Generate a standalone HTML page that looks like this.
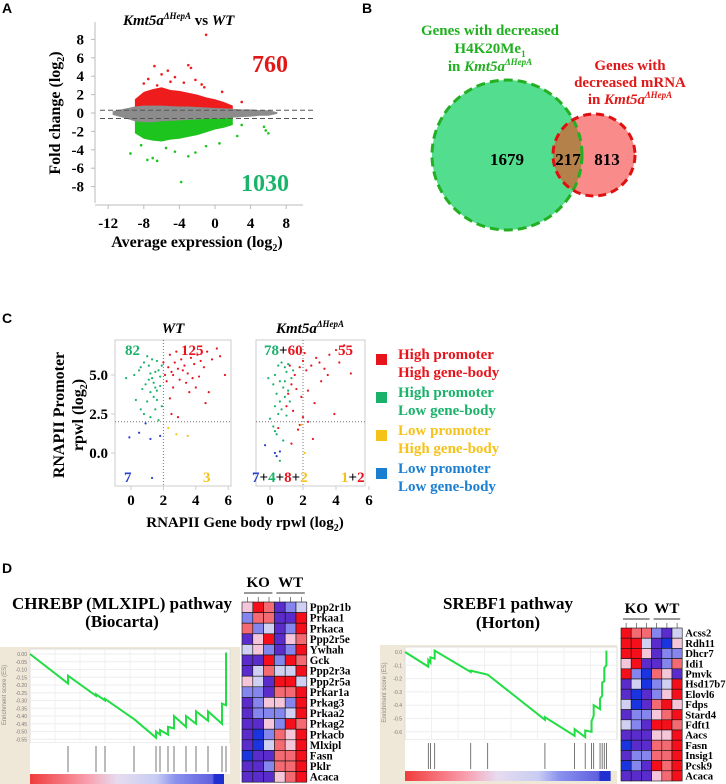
<!DOCTYPE html>
<html><head><meta charset="utf-8"><style>
html,body{margin:0;padding:0;background:#fff;width:726px;height:784px;overflow:hidden}
svg{display:block}
.s{font-family:"Liberation Serif",serif;font-weight:bold}
.p{font-family:"Liberation Sans",sans-serif;font-weight:bold;font-size:14px}
</style></head><body>
<svg id="fig" width="726" height="784" viewBox="0 0 726 784" xmlns="http://www.w3.org/2000/svg"></svg>
<script>
// ---------- Panel A data (MA plot) ----------
const maX      = [-11.5,-10,-9,-8,-7,-6,-5,-4,-3,-2,-1,0,1,2,3,4,5,6,7];
const maGrayHi = [0.2,0.5,0.7,0.8,0.8,0.8,0.75,0.7,0.7,0.65,0.6,0.55,0.5,0.45,0.4,0.4,0.3,0.3,0.1];
const maGrayLo = [-0.2,-0.6,-0.9,-1,-1,-0.9,-0.85,-0.8,-0.75,-0.7,-0.65,-0.6,-0.55,-0.5,-0.45,-0.4,-0.3,-0.3,-0.1];
const maBandX  = [-9,-8,-7,-6,-5,-4,-3,-2,-1,0,1,2];
const maRedHi  = [1.5,2.3,2.6,2.8,2.5,2.4,2.2,2.0,1.7,1.5,1.2,0.8];
const maGreenLo= [-2.2,-2.8,-3.0,-3.1,-2.9,-2.8,-2.6,-2.4,-2.1,-1.8,-1.6,-1.3];
const maRedOut = [[-1,8.5],[-6.8,5.1],[-3,5.2],[-2.7,4.9],[-5.3,4.6],[-6,4.2],[-7.5,3.7],[-4.5,3.9],[-2.2,3.6],[-8,3.2],[-3.5,3.3],[-1.2,2.8],[0.8,2.3],[3,1.2],[-5,3.4],[-6.5,3.0],[-1.5,3.1]];
const maGreenOut = [[-3.8,-7.5],[-9.5,-4.4],[-7.6,-5.1],[-6.5,-5.2],[-7,-4.9],[-4.5,-4.2],[-3,-4.7],[-2.2,-4.3],[-5.5,-3.8],[-1,-3.6],[0.5,-3.3],[2.5,-2.5],[5.5,-1.5],[6,-2.2],[5.7,-1.9],[3,-1.3],[-8.3,-3.5]];
const maXTicks = [-12,-8,-4,0,4,8];
const maYTicks = [8,6,4,2,0,-2,-4,-6,-8];
const maCounts = ["760","1030"];
// ---------- Panel B data (Venn) ----------
const vennCounts = ["1679","217","813"];
// ---------- Panel C data ----------
const wtGreen = [[-0.3,4.8],[0.2,5.0],[0.5,5.3],[0.6,5.5],[0.8,5.8],[1,6.2],[1.1,5.6],[1.2,5.1],[1.3,4.8],[1.4,4.5],[1.5,4.2],[1.6,5.9],[1.7,5.3],[1.8,4.9],[1.9,5.6],[1.2,3.9],[1.4,3.6],[1.6,4.0],[0.9,4.4],[1.0,3.3],[1.5,2.8],[0.6,2.8],[0.3,3.4],[1.2,2.3],[1.7,2.1],[0.8,2.5],[1.9,3.0],[1.1,4.7],[1.5,5.2],[1.3,6.0],[0.7,4.1],[1.8,4.3],[1.6,3.4]];
const wtRed = [[2.1,5.0],[2.3,5.5],[2.5,5.2],[2.7,5.8],[2.9,5.4],[3.1,6.0],[3.3,5.6],[3.5,5.1],[3.7,6.1],[3.9,5.7],[4.1,6.3],[4.3,5.9],[4.5,5.5],[4.7,6.5],[5.0,6.0],[5.3,6.7],[5.5,6.2],[5.8,5.0],[2.4,6.3],[2.8,6.5],[3.0,4.7],[3.4,4.5],[3.8,4.8],[4.2,4.9],[2.2,4.6],[2.6,4.2],[2.4,3.5],[4.0,4.2],[4.8,3.9],[4.6,3.2],[2.9,2.3],[2.5,2.5],[3.6,3.9],[2.0,5.8],[2.6,5.0],[3.2,5.3]];
const wtBlue = [[-0.1,1.0],[0.5,1.3],[1.2,0.9],[0.9,1.9],[1.8,1.1],[1.3,-1.6]];
const wtYellow = [[2.8,1.2],[3.5,1.1],[2.3,1.6]];
const koGreen = [[-0.1,4.8],[0.3,5.0],[0.5,5.6],[0.7,5.8],[0.9,5.5],[1.0,5.2],[0.6,4.6],[0.8,4.2],[1.1,4.0],[0.4,3.8],[0.9,3.6],[0.3,3.0],[0.7,2.8],[1.2,3.3],[0.5,2.5],[0.0,2.2],[0.2,1.7],[0.4,1.2],[0.8,0.8],[1.3,4.8],[1.1,5.7],[0.6,3.3],[1.0,2.4],[0.2,4.4],[0.9,4.6],[1.4,5.3],[0.6,-0.5],[0.3,1.4]];
const koRed = [[1.5,5.0],[1.8,5.5],[2.0,5.9],[2.2,5.3],[2.5,5.6],[2.8,6.1],[3.0,5.8],[3.3,5.4],[3.6,6.3],[4.0,6.6],[4.2,5.8],[4.5,6.9],[4.9,5.1],[1.3,4.4],[1.1,3.8],[1.6,4.1],[1.9,3.6],[2.3,4.0],[2.7,3.2],[3.1,4.6],[3.9,2.5],[1.0,3.0],[1.4,2.7],[2.0,2.3],[2.3,2.0],[1.8,1.8],[2.6,0.9],[0.5,1.6],[1.3,0.6],[1.7,1.5],[1.2,5.6],[2.1,6.4],[3.5,5.0]];
const koBlue = [[-0.3,0.5],[0.3,0.0],[0.4,-0.2],[0.6,0.1]];
const koYellow = [[2.1,0.0],[1.9,1.8]];
const cXTicks = [0,2,4,6];
const cYTicks = [5.0,2.5,0.0];
// ---------- Panel D data ----------
const gsea1HitRank = [0.0,0.19,0.33,0.375,0.52,0.63,0.65,0.69,0.72,0.78,0.83,0.89,0.96,0.98];
const gsea1EsBefore = [0.0,-0.19,-0.27,-0.30,-0.42,-0.54,-0.52,-0.52,-0.48,-0.47,-0.45,-0.43,-0.45,-0.33];
const gsea1EsAfter  = [0.0,-0.14,-0.26,-0.29,-0.42,-0.50,-0.49,-0.47,-0.40,-0.40,-0.37,-0.37,-0.32,0.01];
const gsea1YTicks = ["0.00","-0.05","-0.10","-0.15","-0.20","-0.25","-0.30","-0.35","-0.40","-0.45","-0.50","-0.55"];
const gsea2HitRank = [0.0,0.11,0.12,0.14,0.31,0.39,0.66,0.80,0.85,0.88,0.89,0.92,0.93,0.94,0.95];
const gsea2EsBefore = [0.0,-0.11,-0.08,-0.05,-0.15,-0.17,-0.51,-0.63,-0.64,-0.60,-0.48,-0.43,-0.33,-0.22,-0.10];
const gsea2EsAfter  = [0.0,-0.06,-0.04,0.01,-0.14,-0.17,-0.49,-0.58,-0.59,-0.52,-0.40,-0.35,-0.23,-0.12,0.01];
const gsea2YTicks = ["0.0","-0.1","-0.2","-0.3","-0.4","-0.5","-0.6"];
const heat1Genes = ["Ppp2r1b","Prkaa1","Prkaca","Ppp2r5e","Ywhah","Gck","Ppp2r3a","Ppp2r5a","Prkar1a","Prkag3","Prkaa2","Prkag2","Prkacb","Mlxipl","Fasn","Pklr","Acaca"];
const heat1Vals = ["pRrBbl","brrBBR","rblBbR","BpRBpr","lpbBbR","BBRbRr","BlrllR","plBRRl","bbBrrR","BbppbR","BbbblR","BBpbRr","BDbrpR","BDlrpR","DBBrrR","BBbrrR","BBBprR"];
const heat2Genes = ["Acss2","Rdh11","Dhcr7","Idi1","Pmvk","Hsd17b7","Elovl6","Fdps","Stard4","Fdft1","Aacs","Fasn","Insig1","Pcsk9","Acaca"];
const heat2Vals = ["RrrbBl","RRlBDp","RRpBbb","pRBBbr","RbDrpB","BlDblR","BDBbpR","lDBrRp","BbbprR","lbBRRr","BBBppR","DBBrrR","BbbrrR","DbBRrR","BBBprR"];
const heatColors = {R:"#f40f1a",r:"#f46a72",p:"#f5c6da",l:"#cfd0f2",b:"#8585ee",B:"#5a2ccb",D:"#1a35e0"};

const NS="http://www.w3.org/2000/svg";
const svg=document.getElementById('fig');
function el(tag,attrs,parent,txt){const e=document.createElementNS(NS,tag);for(const k in attrs)e.setAttribute(k,attrs[k]);if(txt!==undefined)e.textContent=txt;(parent||svg).appendChild(e);return e;}
function grp(name){const g=el('g',{});return g;}

[["A",2,13],["B",362,13],["C",2,323],["D",2,573]].forEach(([t,x,y])=>{
  const e=el('text',{x:x,y:y,class:'p'},svg,t);
  
  
});

// ================= Panel A =================
(function(){
  const g=grp('ma-plot');
  const X=v=>215+8.9*v, Y=v=>113-9.2*v;
  el('line',{x1:95,y1:22,x2:95,y2:203,stroke:'#bbb','stroke-width':1},g);
  el('line',{x1:95,y1:205,x2:303,y2:205,stroke:'#bbb','stroke-width':1},g);
  maYTicks.forEach(t=>{el('line',{x1:91,x2:95,y1:Y(t),y2:Y(t),stroke:'#bbb'},g);
    const e=el('text',{x:84,y:Y(t)+5,'text-anchor':'end',class:'s','font-size':15},g,String(t));
    });
  maXTicks.forEach(t=>{el('line',{x1:X(t),x2:X(t),y1:205,y2:209,stroke:'#bbb'},g);
    const e=el('text',{x:X(t),y:228,'text-anchor':'middle',class:'s','font-size':15},g,String(t));
    });
  const band=(xs,hi,lo,col,name)=>{let d='M'+xs.map((x,i)=>X(x)+','+Y(hi[i])).join('L');
    for(let i=xs.length-1;i>=0;i--)d+='L'+X(xs[i])+','+Y(lo[i]);
    const p=el('path',{d:d+'Z',fill:col},g);};
  const loR=maBandX.map(x=>0.45), hiG=maBandX.map(x=>-0.45);
  band(maBandX,maRedHi,loR,'#ee1c1c','upregulated-cloud');
  band(maBandX,hiG,maGreenLo,'#1ec41e','downregulated-cloud');
  band(maX,maGrayHi,maGrayLo,'#8c8c8c','unchanged-cloud');
  maRedOut.forEach(p=>{const c=el('circle',{cx:X(p[0]),cy:Y(p[1]),r:1.3,fill:'#ee1c1c'},g);});
  maGreenOut.forEach(p=>{const c=el('circle',{cx:X(p[0]),cy:Y(p[1]),r:1.3,fill:'#1ec41e'},g);});
  [0.3,-0.6].forEach(v=>el('line',{x1:100,x2:314,y1:Y(v),y2:Y(v),stroke:'#555','stroke-dasharray':'5,3','stroke-width':1},g));
  let t=el('text',{x:270,y:72,'text-anchor':'middle',class:'s','font-size':24,fill:'#e01818'},g,maCounts[0]);
  t=el('text',{x:265,y:191,'text-anchor':'middle',class:'s','font-size':24,fill:'#19b36b'},g,maCounts[1]);
  t=el('text',{x:123,y:25,class:'s','font-size':15},g);
  t.innerHTML='<tspan font-style="italic">Kmt5a</tspan><tspan font-style="italic" font-size="9" dy="-6">ΔHepA</tspan><tspan dy="6">  vs </tspan><tspan font-style="italic">WT</tspan>';
  t=el('text',{x:0,y:0,'text-anchor':'middle',class:'s','font-size':16,transform:'translate(60,113) rotate(-90)'},g);
  t.innerHTML='Fold change (log<tspan font-size="10" dy="4">2</tspan><tspan dy="-4">)</tspan>';
  t=el('text',{x:197,y:247,'text-anchor':'middle',class:'s','font-size':16},g);
  t.innerHTML='Average expression (log<tspan font-size="10" dy="4">2</tspan><tspan dy="-4">)</tspan>';
})();

// ================= Panel B =================
(function(){
  const g=grp('venn-diagram');
  let c=el('circle',{cx:507,cy:155,r:75,fill:'#52dd8f'},g);
  c=el('circle',{cx:594,cy:155,r:41,fill:'#f98b8b'},g);
  el('clipPath',{id:'gc'},g);el('circle',{cx:507,cy:155,r:75},document.getElementById('gc'));
  c=el('circle',{cx:594,cy:155,r:41,fill:'#b5814a','clip-path':'url(#gc)'},g);
  el('circle',{cx:507,cy:155,r:75,fill:'none',stroke:'#22b022','stroke-width':3,'stroke-dasharray':'9,5'},g);
  el('circle',{cx:594,cy:155,r:41,fill:'none',stroke:'#de1010','stroke-width':3,'stroke-dasharray':'8,5'},g);
  [[507,vennCounts[0]],[568,vennCounts[1]],[607,vennCounts[2]]].forEach(([x,s])=>{const t=el('text',{x:x,y:165,'text-anchor':'middle',class:'s','font-size':17},g,s);});
  const lg=el('text',{class:'s','font-size':15,fill:'#20b020','text-anchor':'middle'},g);
  lg.innerHTML='<tspan x="490" y="35">Genes with decreased</tspan><tspan x="490" y="53">H4K20Me<tspan font-size="9" dy="4">1</tspan></tspan><tspan x="490" y="71">in <tspan font-style="italic">Kmt5a</tspan><tspan font-style="italic" font-size="9" dy="-6">ΔHepA</tspan></tspan>';
  
  const lr=el('text',{class:'s','font-size':15,fill:'#e01818','text-anchor':'middle'},g);
  lr.innerHTML='<tspan x="630" y="70">Genes with</tspan><tspan x="630" y="87">decreased mRNA</tspan><tspan x="630" y="104">in <tspan font-style="italic">Kmt5a</tspan><tspan font-style="italic" font-size="9" dy="-6">ΔHepA</tspan></tspan>';
  
})();

// ================= Panel C =================
function scatterPanel(name,left,right,x0,sx,sets){
  const g=grp(name);
  const X=v=>x0+sx*v, Y=v=>453-15.6*v;
  el('rect',{x:left,y:340,width:right-left,height:146,fill:'none',stroke:'#ccc'},g);
  el('line',{x1:X(2),x2:X(2),y1:340,y2:486,stroke:'#777','stroke-dasharray':'1,2'},g);
  el('line',{x1:left,x2:right,y1:Y(2),y2:Y(2),stroke:'#777','stroke-dasharray':'1,2'},g);
  cXTicks.forEach(t=>{el('line',{x1:X(t),x2:X(t),y1:486,y2:490,stroke:'#ccc'},g);
    const e=el('text',{x:X(t),y:505,'text-anchor':'middle',class:'s','font-size':15},g,String(t));
    });
  sets.forEach(([pts,col,nm])=>pts.forEach(p=>{const c=el('circle',{cx:X(p[0]),cy:Y(p[1]),r:1.1,fill:col},g);
    }));
  return g;
}
(function(){
  const G='#1ab26b',R='#e8141c',B='#2a3fd0',Yl='#f5c21b';
  const g1=scatterPanel('wt-scatter',115,231,131,16.2,[[wtGreen,G,'green-point'],[wtRed,R,'red-point'],[wtBlue,B,'blue-point'],[wtYellow,Yl,'yellow-point']]);
  cYTicks.forEach(t=>{const y=453-15.6*t;el('line',{x1:111,x2:115,y1:y,y2:y,stroke:'#ccc'},g1);
    const e=el('text',{x:108,y:y+5,'text-anchor':'end',class:'s','font-size':15},g1,t.toFixed(1));
    });
  scatterPanel('ko-scatter',256,365,270,16.5,[[koGreen,G,'green-point'],[koRed,R,'red-point'],[koBlue,B,'blue-point'],[koYellow,Yl,'yellow-point']]);
  const T=(x,y,html,name,anchor)=>{const t=el('text',{x:x,y:y,class:'s','font-size':15,'text-anchor':anchor||'start'},svg);t.innerHTML=html;};
  T(125,355,'<tspan fill="'+G+'">82</tspan>','wt-count-82');
  T(181,355,'<tspan fill="'+R+'">125</tspan>','wt-count-125');
  T(124,482,'<tspan fill="'+B+'">7</tspan>','wt-count-7');
  T(203,482,'<tspan fill="'+Yl+'">3</tspan>','wt-count-3');
  T(264,355,'<tspan fill="'+G+'">78</tspan>+<tspan fill="'+R+'">60</tspan>','ko-count-78-60');
  T(338,355,'<tspan fill="'+R+'">55</tspan>','ko-count-55');
  T(252,482,'<tspan fill="'+B+'">7</tspan>+<tspan fill="'+G+'">4</tspan>+<tspan fill="'+R+'">8</tspan>+<tspan fill="'+Yl+'">2</tspan>','ko-count-bottom-left');
  T(341,482,'<tspan fill="'+Yl+'">1</tspan>+<tspan fill="'+R+'">2</tspan>','ko-count-bottom-right');
  T(173,333,'<tspan font-style="italic">WT</tspan>','wt-title','middle');
  T(310,333,'<tspan font-style="italic">Kmt5a</tspan><tspan font-style="italic" font-size="9" dy="-6">ΔHepA</tspan>','ko-title','middle');
  T(245,527,'RNAPII Gene body rpwl (log<tspan font-size="10" dy="4">2</tspan><tspan dy="-4">)</tspan>','x-axis-title','middle');
  const yt=el('text',{class:'s','font-size':16,'text-anchor':'middle',transform:'translate(72,415) rotate(-90)'},svg);
  yt.innerHTML='<tspan x="0" y="-8">RNAPII Promoter</tspan><tspan x="0" y="11">rpwl (log<tspan font-size="10" dy="4">2</tspan><tspan dy="-4">)</tspan></tspan>';
  
  const leg=[['#e8141c','High promoter','High gene-body',360],['#1ab26b','High promoter','Low gene-body',398],['#f5c21b','Low promoter','High gene-body',436],['#1a7fd0','Low promoter','Low gene-body',474]];
  leg.forEach(([c,a,b,y])=>{const lg=grp('legend-entry');
    el('rect',{x:376,y:y-6,width:11,height:11,fill:c},lg);
    const t=el('text',{class:'s','font-size':15,fill:c},lg);t.innerHTML='<tspan x="398" y="'+(y-1)+'">'+a+'</tspan><tspan x="398" y="'+(y+17)+'">'+b+'</tspan>';});
})();

// ================= Panel D =================
function gsea(name,x0,x1,plotL,plotR,top,y0px,pxPerUnit,esBot,hitBot,ranks,before,after,ticks,tickStep){
  const g=grp(name);
  el('rect',{x:x0,y:top,width:x1-x0,height:784-top,fill:'#efe7d8'},g);
  el('rect',{x:plotL,y:top+2,width:plotR-plotL,height:esBot-top-2,fill:'#fff',stroke:'#ddd'},g);
  el('rect',{x:plotL,y:esBot,width:plotR-plotL,height:hitBot-esBot,fill:'#fff'},g);
  const X=r=>plotL+(plotR-plotL)*r, Y=v=>y0px-pxPerUnit*v;
  ticks.forEach((t,i)=>{const v=-i*tickStep;el('line',{x1:plotL,x2:plotR,y1:Y(v),y2:Y(v),stroke:'#eee'},g);
    const e=el('text',{x:plotL-3,y:Y(v)+2,'text-anchor':'end','font-family':'Liberation Sans,sans-serif','font-size':5,fill:'#777'},g,t);
    });
  for(let k=1;k<8;k++){const xx=plotL+(plotR-plotL)*k/8;el('line',{x1:xx,x2:xx,y1:top+2,y2:esBot,stroke:'#f0f0f0'},g);}
  const yl=el('text',{'font-family':'Liberation Sans,sans-serif','font-size':6,fill:'#888','text-anchor':'middle',transform:'translate('+(x0+6)+','+((top+esBot)/2)+') rotate(-90)'},g,'Enrichment score (ES)');
  
  let d='M'+X(ranks[0])+','+Y(after[0]);
  for(let i=1;i<ranks.length;i++){d+='L'+X(ranks[i])+','+Y(before[i])+'L'+X(ranks[i])+','+Y(after[i]);}
  const p=el('path',{d:d,fill:'none',stroke:'#22dd44','stroke-width':2},g);
  ranks.slice(1).forEach(r=>{const l=el('line',{x1:X(r),x2:X(r),y1:esBot+3,y2:hitBot-2,stroke:'#555','stroke-width':0.8},g);});
  const gid=name+'-grad';const lgd=el('linearGradient',{id:gid},g);
  [['0','#f03c3c'],['0.3','#f9a0b0'],['0.45','#e6dcf0'],['0.65','#c8ccf2'],['0.75','#8a92ee'],['0.94','#6060e0'],['0.95','#2030d0'],['1','#2030d0']].forEach(([o,c])=>el('stop',{offset:o,'stop-color':c},lgd));
  const cb=el('rect',{x:plotL,y:hitBot,width:(plotR-plotL)*0.97,height:10,fill:'url(#'+gid+')'},g);
}
function heat(name,x,y,cw,rh,genes,vals){
  const g=grp(name);
  vals.forEach((row,i)=>row.split('').forEach((ch,j)=>{const r=el('rect',{x:x+j*cw,y:y+i*rh,width:cw,height:rh,fill:heatColors[ch],stroke:'#111','stroke-width':0.6},g);
    }));
  genes.forEach((gn,i)=>{const t=el('text',{x:x+6*cw+3,y:y+i*rh+rh-1.5,class:'s','font-size':rh+0.5},g,gn);});
  const tY=y-15;
  const t1=el('text',{x:x+1.5*cw,y:tY,'text-anchor':'middle',class:'s','font-size':15},g,'KO');
  const t2=el('text',{x:x+4.5*cw,y:tY,'text-anchor':'middle',class:'s','font-size':15},g,'WT');
  el('line',{x1:x+2,x2:x+3*cw-2,y1:y-9,y2:y-9,stroke:'#333'},g);el('line',{x1:x+3*cw+2,x2:x+6*cw-2,y1:y-9,y2:y-9,stroke:'#333'},g);
  for(let j=0;j<6;j++)el('line',{x1:x+j*cw+cw/2,x2:x+j*cw+cw/2,y1:y-5,y2:y,stroke:'#333','stroke-width':0.6},g);
}
gsea('gsea-chrebp',0,240,30,230,647,654,155,743,774,gsea1HitRank,gsea1EsBefore,gsea1EsAfter,gsea1YTicks,0.05);
gsea('gsea-srebf1',380,617,405,617,645,652,133,740,771,gsea2HitRank,gsea2EsBefore,gsea2EsAfter,gsea2YTicks,0.1);
heat('heatmap-chrebp',242,602,10.8,10.6,heat1Genes,heat1Vals);
heat('heatmap-srebf1',621,628,10.2,10.2,heat2Genes,heat2Vals);
(function(){
  const T=(x,y,s,n)=>{const t=el('text',{x:x,y:y,'text-anchor':'middle',class:'s','font-size':17},svg,s);};
  T(122,609,'CHREBP (MLXIPL) pathway','gsea-title-chrebp');T(122,627,'(Biocarta)','gsea-subtitle-chrebp');
  T(508,609,'SREBF1 pathway','gsea-title-srebf1');T(508,628,'(Horton)','gsea-subtitle-srebf1');
})();
</script>
</body></html>
